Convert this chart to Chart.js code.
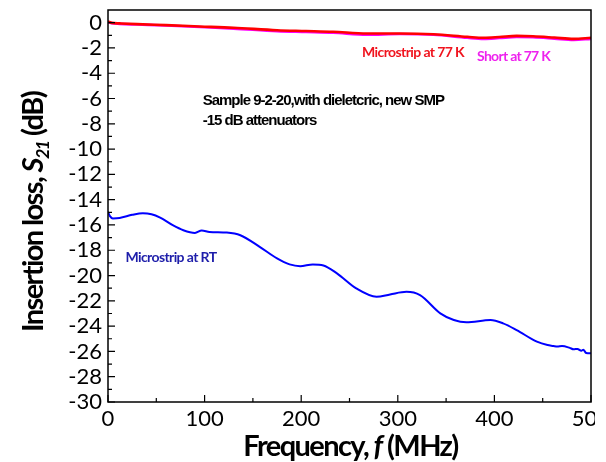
<!DOCTYPE html>
<html>
<head>
<meta charset="utf-8">
<script src="https://cdn.jsdelivr.net/npm/chart.js@4.4.1/dist/chart.umd.min.js"></script>
<style>
  html, body { margin: 0; padding: 0; background: #fff; }
  #wrap { width: 595px; height: 462px; overflow: hidden; }
</style>
</head>
<body>
<div id="wrap"><canvas id="c" width="595" height="462"></canvas></div>
<script>
// Insertion loss S21 (dB) versus frequency (MHz)

// Microstrip at room temperature
const freqRT = [0, 2, 5, 12, 25, 36, 45, 54, 67, 78, 90, 97, 105, 123, 137, 157, 175, 188, 199, 212, 223, 237, 257, 278, 292, 309, 323, 344, 358, 371, 396, 409, 423, 444, 455, 461, 465, 470, 478, 482, 486, 490, 492, 495, 500];
const lossMicrostripRT = [-14.95, -15.3, -15.48, -15.45, -15.2, -15.07, -15.15, -15.42, -16.02, -16.42, -16.63, -16.44, -16.55, -16.6, -16.81, -17.73, -18.65, -19.12, -19.26, -19.12, -19.2, -19.83, -21.02, -21.68, -21.49, -21.29, -21.55, -22.99, -23.52, -23.7, -23.52, -23.78, -24.31, -25.23, -25.5, -25.57, -25.62, -25.58, -25.72, -25.83, -25.8, -25.95, -25.87, -26.12, -26.15];

// Microstrip and short at 77 K
const freq77 = [0, 4, 12, 30, 60, 95, 130, 175, 205, 233, 268, 302, 337, 372, 389, 405, 423, 440, 462, 482, 500];
const lossMicrostrip77 = [0.1, -0.02, -0.06, -0.12, -0.2, -0.3, -0.4, -0.6, -0.66, -0.72, -0.86, -0.86, -0.92, -1.12, -1.2, -1.14, -1.05, -1.08, -1.18, -1.28, -1.2];
const lossShort77 = [0.05, -0.05, -0.1, -0.15, -0.23, -0.35, -0.47, -0.68, -0.74, -0.8, -0.95, -0.9, -0.96, -1.2, -1.28, -1.22, -1.14, -1.16, -1.26, -1.36, -1.28];

const seriesNames = ['Microstrip at 77 K', 'Short at 77 K', 'Microstrip at RT'];

// Axis ticks
const xTickValues = [0, 100, 200, 300, 400, 500];
const xMinorValues = [50, 150, 250, 350, 450];
const yTickValues = [0, -2, -4, -6, -8, -10, -12, -14, -16, -18, -20, -22, -24, -26, -28, -30];
const yMinorValues = [-1, -3, -5, -7, -9, -11, -13, -15, -17, -19, -21, -23, -25, -27, -29];

// Notes written inside the plot (anchored in data units, left aligned)
const notes = [
  { text: 'Sample 9-2-20,with dieletcric, new SMP', x: 98, y: -6.16, color: '#000000', font: 'bold 15px "Liberation Sans"', spacing: '-1px' },
  { text: '-15 dB attenuators', x: 98, y: -7.79, color: '#000000', font: 'bold 15px "Liberation Sans"', spacing: '-1px' },
  { text: seriesNames[0], x: 263, y: -2.37, color: '#f0141e', font: 'bold 14px Lato', spacing: '-0.6px' },
  { text: seriesNames[1], x: 382, y: -2.68, color: '#ee22ee', font: 'bold 14px Lato', spacing: '-0.7px' },
  { text: seriesNames[2], x: 18, y: -18.55, color: '#1e1eaa', font: 'bold 14px Lato', spacing: '-0.6px' }
];

const toPoints = (xs, ys) => xs.map((x, i) => ({ x: x, y: ys[i] }));

// Draws a run of text pieces (regular / italic / subscript) starting at (x, y)
function drawRuns(ctx, runs, x, y, size, family) {
  let cx = x;
  runs.forEach(r => {
    const s = r.sub ? size * 0.62 : size;
    ctx.font = (r.italic ? 'italic ' : '') + 'bold ' + s + 'px ' + family;
    ctx.fillText(r.text, cx, y + (r.sub ? size * 0.22 : 0));
    cx += ctx.measureText(r.text).width;
  });
  return cx - x;
}
function runsWidth(ctx, runs, size, family) {
  let w = 0;
  runs.forEach(r => {
    const s = r.sub ? size * 0.62 : size;
    ctx.font = (r.italic ? 'italic ' : '') + 'bold ' + s + 'px ' + family;
    w += ctx.measureText(r.text).width;
  });
  return w;
}

const framePlugin = {
  id: 'frame',
  afterDatasetsDraw(chart) {
    const { ctx, chartArea: a, scales } = chart;
    ctx.save();
    ctx.strokeStyle = '#000';
    ctx.lineWidth = 1.5;
    ctx.strokeRect(a.left, a.top, a.right - a.left, a.bottom - a.top);
    ctx.lineWidth = 1.2;
    ctx.beginPath();
    xTickValues.forEach(v => { const p = scales.x.getPixelForValue(v); ctx.moveTo(p, a.bottom); ctx.lineTo(p, a.bottom - 7); });
    xMinorValues.forEach(v => { const p = scales.x.getPixelForValue(v); ctx.moveTo(p, a.bottom); ctx.lineTo(p, a.bottom - 4); });
    yTickValues.forEach(v => { const p = scales.y.getPixelForValue(v); ctx.moveTo(a.left, p); ctx.lineTo(a.left + 7, p); });
    yMinorValues.forEach(v => { const p = scales.y.getPixelForValue(v); ctx.moveTo(a.left, p); ctx.lineTo(a.left + 4, p); });
    ctx.stroke();
    ctx.restore();
  }
};

const textPlugin = {
  id: 'texts',
  afterDraw(chart) {
    const { ctx, chartArea: a, scales } = chart;
    ctx.save();
    ctx.fillStyle = '#000';
    ctx.textBaseline = 'alphabetic';
    ctx.textAlign = 'left';

    // x axis title
    ctx.letterSpacing = '-1.6px';
    const xRuns = [{ text: 'Frequency, ' }, { text: 'f', italic: true }, { text: ' (MHz)' }];
    const tSize = 29, fam = 'Lato';
    const xw = runsWidth(ctx, xRuns, tSize, fam);
    drawRuns(ctx, xRuns, (a.left + a.right) / 2 - xw / 2 + 1, 456, tSize, fam);

    // y axis title (rotated)
    const yRuns = [{ text: 'Insertion loss, ' }, { text: 'S', italic: true }, { text: '21', italic: true, sub: true }, { text: ' (dB)' }];
    const yw = runsWidth(ctx, yRuns, tSize, fam);
    ctx.translate(43, (a.top + a.bottom) / 2 + 6);
    ctx.rotate(-Math.PI / 2);
    drawRuns(ctx, yRuns, -yw / 2, 0, tSize, fam);
    ctx.setTransform(1, 0, 0, 1, 0, 0);

    // notes
    ctx.textBaseline = 'middle';
    notes.forEach(n => {
      ctx.font = n.font;
      ctx.letterSpacing = n.spacing;
      ctx.fillStyle = n.color;
      ctx.fillText(n.text, scales.x.getPixelForValue(n.x), scales.y.getPixelForValue(n.y));
    });
    ctx.restore();
  }
};

const tickFont = { family: 'Lato', size: 22 };

new Chart(document.getElementById('c'), {
  type: 'line',
  data: {
    datasets: [
      { label: seriesNames[0], data: toPoints(freq77, lossMicrostrip77), borderColor: '#ff0000', borderWidth: 2.6, pointRadius: 0, cubicInterpolationMode: 'monotone' },
      { label: seriesNames[1], data: toPoints(freq77, lossShort77), borderColor: '#ff00ff', borderWidth: 2.6, pointRadius: 0, cubicInterpolationMode: 'monotone' },
      { label: seriesNames[2], data: toPoints(freqRT, lossMicrostripRT), borderColor: '#0000ff', borderWidth: 2, pointRadius: 0, cubicInterpolationMode: 'monotone' }
    ]
  },
  options: {
    responsive: false,
    devicePixelRatio: 1,
    animation: false,
    layout: { padding: { top: 10, right: 4, left: 0, bottom: 0 } },
    plugins: { legend: { display: false }, tooltip: { enabled: false } },
    scales: {
      x: {
        type: 'linear', min: 0, max: 500,
        grid: { display: false, drawTicks: false },
        border: { display: false },
        ticks: { font: tickFont, color: '#000', padding: 4, maxRotation: 0, autoSkip: false },
        afterBuildTicks: s => { s.ticks = xTickValues.map(v => ({ value: v })); },
        afterFit: s => { s.height = 60; s.paddingLeft = 0; s.paddingRight = 0; }
      },
      y: {
        type: 'linear', min: -30, max: 1,
        grid: { display: false, drawTicks: false },
        border: { display: false },
        ticks: { font: tickFont, color: '#000', padding: 6, autoSkip: false },
        afterBuildTicks: s => { s.ticks = yTickValues.map(v => ({ value: v })); },
        afterFit: s => { s.width = 108; s.paddingTop = 0; s.paddingBottom = 0; }
      }
    }
  },
  plugins: [framePlugin, textPlugin]
});
</script>
</body>
</html>
